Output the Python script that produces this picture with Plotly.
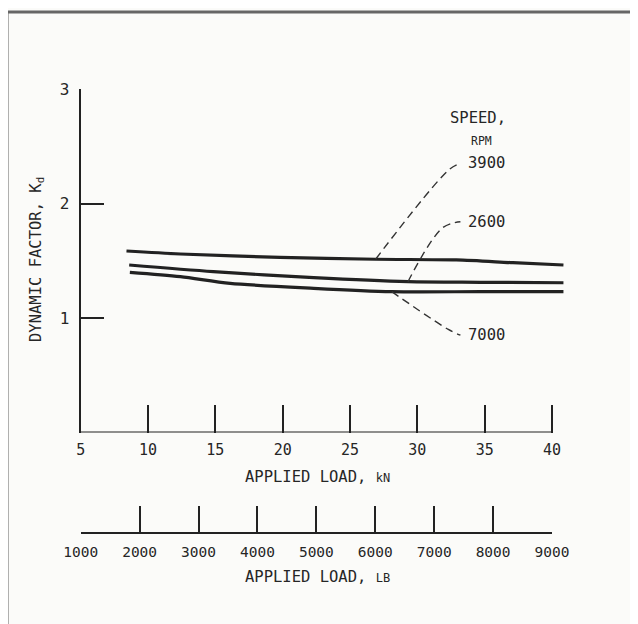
import plotly.graph_objects as go

# ---------------- data ----------------
load_kn_3900 = [8.4, 12.4, 19.8, 26.9, 32.9, 37.1, 40.85]
kd_3900 = [1.585, 1.559, 1.530, 1.513, 1.507, 1.483, 1.463]

load_kn_2600 = [8.6, 14.85, 22.3, 29.3, 34.7, 40.85]
kd_2600 = [1.463, 1.405, 1.352, 1.317, 1.312, 1.308]

load_kn_7000 = [8.65, 12.4, 16.1, 22.3, 28.1, 34.7, 40.85]
kd_7000 = [1.399, 1.361, 1.303, 1.259, 1.230, 1.230, 1.230]

kn_ticks = [5, 10, 15, 20, 25, 30, 35, 40]
lb_ticks = [1000, 2000, 3000, 4000, 5000, 6000, 7000, 8000, 9000]
kd_ticks = [1, 2, 3]

speed_labels = ["3900", "2600", "7000"]
# leader lines: point on curve -> bend -> label
leader_start_x = [26.9, 29.3, 28.1]
leader_start_y = [1.513, 1.317, 1.230]
leader_bend_x = [32.4, 31.9, 32.3]
leader_bend_y = [2.30, 1.79, 0.90]
label_x = 33.2
label_y = [2.35, 1.84, 0.85]

# ---------------- layout helpers ----------------
W, H = 638, 624
OFF = 8  # the page body margin shifts the figure by 8 px
def px(x):
    return (x - OFF) / W
def py(y):
    return (H - (y - OFF)) / H

FONT = "DejaVu Sans Mono"
INK = "#222222"
TXT = "#262626"

fig = go.Figure()

series = [(load_kn_3900, kd_3900), (load_kn_2600, kd_2600), (load_kn_7000, kd_7000)]
for xs, ys in series:
    fig.add_trace(go.Scatter(x=xs, y=ys, mode="lines",
                             line=dict(color=INK, width=3.2, shape="spline", smoothing=0.8),
                             hoverinfo="skip", showlegend=False))

for i, lab in enumerate(speed_labels):
    fig.add_trace(go.Scatter(
        x=[leader_start_x[i], leader_bend_x[i], label_x],
        y=[leader_start_y[i], leader_bend_y[i], label_y[i]],
        mode="lines", line=dict(color="#333", width=1.4, dash="8px,5px", shape="spline", smoothing=1),
        hoverinfo="skip", showlegend=False))
    fig.add_annotation(x=label_x + 0.4, y=label_y[i], xref="x", yref="y", text=lab,
                       showarrow=False, xanchor="left", yanchor="middle",
                       font=dict(family=FONT, size=15.5, color=TXT))

# dummy trace for the lb axis
fig.add_trace(go.Scatter(x=lb_ticks, y=[0.5] * len(lb_ticks), xaxis="x2", yaxis="y2",
                         mode="markers", marker=dict(opacity=0), hoverinfo="skip",
                         showlegend=False))

x0_px, x40_px = 80.7, 552.0
scale = (x40_px - x0_px) / 35.0
x_right_px = x0_px + 36 * scale

fig.update_layout(
    template="none",
    width=W, height=H,
    margin=dict(l=0, r=0, t=0, b=0, pad=0, autoexpand=False),
    paper_bgcolor="#fbfbf9", plot_bgcolor="rgba(0,0,0,0)",
    showlegend=False,
    xaxis=dict(domain=[px(x0_px), px(x_right_px)], range=[5, 41], anchor="y",
               automargin=False,
               showline=False, showgrid=False, zeroline=False,
               tickmode="array", tickvals=kn_ticks, ticktext=[str(v) for v in kn_ticks],
               ticks="inside", ticklen=28, tickwidth=2, tickcolor=INK,
               ticklabelstandoff=6,
               tickfont=dict(family=FONT, size=15, color=TXT)),
    yaxis=dict(domain=[py(432.5), py(89)], range=[0, 3], anchor="x",
               automargin=False,
               showline=True, linewidth=2, linecolor=INK,
               showgrid=False, zeroline=False,
               tickmode="array", tickvals=kd_ticks, ticktext=[str(v) for v in kd_ticks],
               ticks="inside", ticklen=23, tickwidth=2, tickcolor=INK,
               ticklabelstandoff=6,
               tickfont=dict(family=FONT, size=16, color=TXT)),
    xaxis2=dict(domain=[px(x0_px), px(x40_px)], range=[1000, 9000], anchor="y2",
                automargin=False,
                showline=True, linewidth=2, linecolor=INK,
                showgrid=False, zeroline=False,
                tickmode="array", tickvals=lb_ticks, ticktext=[str(v) for v in lb_ticks],
                ticks="inside", ticklen=26, tickwidth=2, tickcolor=INK,
                ticklabelstandoff=6,
                tickfont=dict(family=FONT, size=14.5, color=TXT)),
    yaxis2=dict(domain=[py(532), py(520)], range=[0, 1], anchor="x2", visible=False,
                automargin=False),
)

# kN baseline (only from 5 to 40)
fig.add_shape(type="line", xref="x", yref="y", x0=kn_ticks[0], x1=kn_ticks[-1], y0=0, y1=0,
              line=dict(color=INK, width=2))

# frame of the figure (left and top edges)
fig.add_shape(type="line", xref="paper", yref="paper", x0=px(7), x1=px(7), y0=0, y1=py(12),
              line=dict(color="#666", width=3))
fig.add_shape(type="line", xref="paper", yref="paper", x0=px(7), x1=1, y0=py(12), y1=py(12),
              line=dict(color="#666", width=3))

# titles
fig.add_annotation(x=px(317), y=py(477), xref="paper", yref="paper",
                   text="APPLIED LOAD, <span style='font-size:12px'>kN</span>",
                   showarrow=False, xanchor="center", yanchor="middle",
                   font=dict(family=FONT, size=15.5, color=TXT))
fig.add_annotation(x=px(317), y=py(577), xref="paper", yref="paper",
                   text="APPLIED LOAD, <span style='font-size:12px'>LB</span>",
                   showarrow=False, xanchor="center", yanchor="middle",
                   font=dict(family=FONT, size=15.5, color=TXT))
fig.add_annotation(x=px(37), y=py(260), xref="paper", yref="paper",
                   text="DYNAMIC FACTOR, K<sub>d</sub>", textangle=-90,
                   showarrow=False, xanchor="center", yanchor="middle",
                   font=dict(family=FONT, size=15.5, color=TXT))
fig.add_annotation(x=px(478), y=py(118), xref="paper", yref="paper",
                   text="SPEED,", showarrow=False, xanchor="center", yanchor="middle",
                   font=dict(family=FONT, size=15.5, color=TXT))
fig.add_annotation(x=px(481), y=py(141), xref="paper", yref="paper",
                   text="RPM", showarrow=False, xanchor="center", yanchor="middle",
                   font=dict(family=FONT, size=11.5, color=TXT))

fig.write_html("out.html")
